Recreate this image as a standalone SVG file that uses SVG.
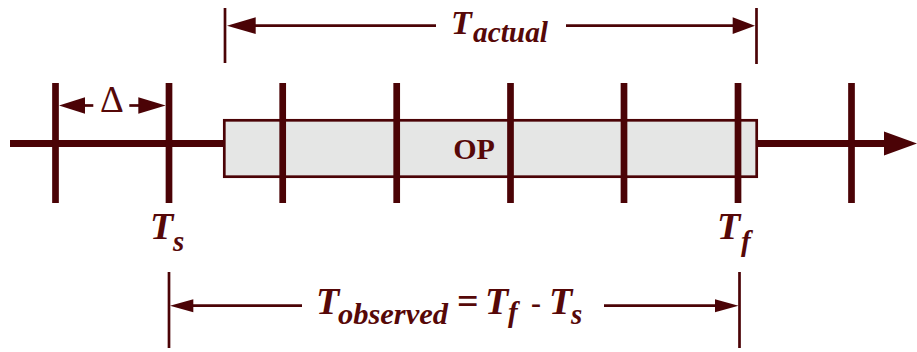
<svg xmlns="http://www.w3.org/2000/svg" width="917" height="352" viewBox="0 0 917 352">
<style>
.ln{stroke:#4b0306;fill:none}
.tick{stroke:#4b0306;stroke-width:6.7}
.dim{stroke:#4b0306;stroke-width:2.7}
.ah{fill:#4b0306;stroke:none}
.t{font-family:"Liberation Serif","Times New Roman",serif;font-weight:bold;font-style:italic;fill:#560808}
.big{font-size:38px}
.sub{font-size:29px}
.up{font-style:normal}
</style>
<rect width="917" height="352" fill="#ffffff"/>
<g id="connectors">
  <line class="ln" x1="10" y1="143.5" x2="886" y2="143.5" stroke-width="7"/>
  <polygon class="ah" points="884,131.5 917,143.5 884,155.5"/>
  <line class="dim" x1="225" y1="8" x2="225" y2="63"/>
  <line class="dim" x1="756.5" y1="8" x2="756.5" y2="64"/>
  <line class="dim" x1="250" y1="25.7" x2="436" y2="25.7"/>
  <polygon class="ah" points="227,25.7 255.7,17.3 255.7,34"/>
  <line class="dim" x1="566" y1="25.7" x2="737" y2="25.7"/>
  <polygon class="ah" points="755,25.7 732.7,17.3 732.7,34"/>
  <line class="dim" x1="80" y1="105.5" x2="93.3" y2="105.5"/>
  <polygon class="ah" points="59,105.5 85,97.3 85,113.7"/>
  <line class="dim" x1="129.3" y1="105.5" x2="143" y2="105.5"/>
  <polygon class="ah" points="165.7,105.5 138.3,97.3 138.3,113.7"/>
  <line class="dim" x1="169" y1="272" x2="169" y2="348"/>
  <line class="dim" x1="739.5" y1="272" x2="739.5" y2="348"/>
  <line class="dim" x1="190" y1="305.7" x2="302" y2="305.7"/>
  <polygon class="ah" points="170,305.7 193.3,299.3 193.3,312.3"/>
  <line class="dim" x1="604" y1="305.7" x2="718" y2="305.7"/>
  <polygon class="ah" points="738.5,305.7 715,299.3 715,312.3"/>
</g>
<g id="op">
  <rect x="224.3" y="120.3" width="532.4" height="56.4" fill="#e5e6e5" stroke="#4b0306" stroke-width="2.7"/>
  <text x="474" y="159" text-anchor="middle" font-family="'Liberation Serif','Times New Roman',serif" font-weight="bold" font-size="30" fill="#560808">OP</text>
</g>
<g id="ticks">
  <line class="tick" x1="55.5" y1="83" x2="55.5" y2="203"/>
  <line class="tick" x1="169" y1="83" x2="169" y2="203"/>
  <line class="tick" x1="282.7" y1="83" x2="282.7" y2="203"/>
  <line class="tick" x1="396.7" y1="83" x2="396.7" y2="203"/>
  <line class="tick" x1="510.5" y1="83" x2="510.5" y2="203"/>
  <line class="tick" x1="624" y1="83" x2="624" y2="203"/>
  <line class="tick" x1="738" y1="83" x2="738" y2="203"/>
  <line class="tick" x1="851.5" y1="83" x2="851.5" y2="203"/>
</g>
<g id="labels">
  <text class="t"><tspan x="451" y="34" font-size="34">T</tspan><tspan class="sub" x="473" y="41.5" textLength="75" lengthAdjust="spacingAndGlyphs">actual</tspan></text>
  <text x="100" y="111.7" font-family="'Liberation Serif','Times New Roman',serif" font-size="37" fill="#560808">Δ</text>
  <text class="t"><tspan class="big" x="150" y="238.5">T</tspan><tspan class="sub" x="173" y="250.5">s</tspan></text>
  <text class="t"><tspan class="big" x="717" y="238.5">T</tspan><tspan class="sub" x="741" y="250.5">f</tspan></text>
  <text class="t"><tspan class="big" x="316" y="313.5">T</tspan><tspan class="sub" x="338" y="323.5" textLength="110" lengthAdjust="spacingAndGlyphs">observed</tspan><tspan class="big up" x="457" y="314">=</tspan><tspan class="big" x="485" y="313.5">T</tspan><tspan class="sub" x="508" y="321.5">f</tspan><tspan class="up" font-size="30" x="531" y="312.5">-</tspan><tspan class="big" x="549" y="313.5">T</tspan><tspan class="sub" x="571" y="323.5">s</tspan></text>
</g>
</svg>
